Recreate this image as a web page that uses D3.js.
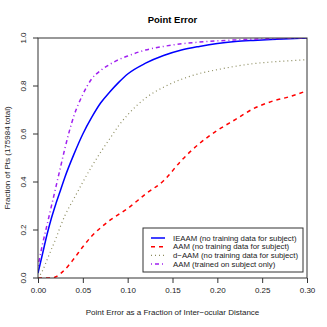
<html>
<head>
<script src="https://d3js.org/d3.v7.min.js"></script>
<style>
  body { margin: 0; background: #fff; }
  text { font-family: "Liberation Sans", Arial, sans-serif; }
</style>
</head>
<body>
<script>
const errors = [0, 0.005, 0.01, 0.015, 0.02, 0.025, 0.03, 0.04, 0.05, 0.06, 0.07, 0.08, 0.09, 0.10,
                0.12, 0.14, 0.16, 0.18, 0.20, 0.22, 0.24, 0.26, 0.28, 0.30];
const ieaam = [0.02, 0.10, 0.18, 0.25, 0.31, 0.365, 0.42, 0.515, 0.60, 0.67, 0.73, 0.775, 0.815, 0.85,
               0.895, 0.927, 0.95, 0.965, 0.977, 0.985, 0.99, 0.994, 0.997, 1.0];
const aamNoTrain = [0, 0, 0, 0, 0.005, 0.018, 0.035, 0.08, 0.13, 0.175, 0.21, 0.24, 0.265, 0.29,
                    0.35, 0.405, 0.49, 0.56, 0.615, 0.66, 0.705, 0.735, 0.755, 0.78];
const dAam = [0, 0.03, 0.075, 0.12, 0.165, 0.215, 0.26, 0.33, 0.40, 0.465, 0.525, 0.58, 0.635, 0.68,
              0.75, 0.795, 0.828, 0.852, 0.868, 0.882, 0.893, 0.90, 0.905, 0.91];
const aamSubject = [0.05, 0.14, 0.22, 0.30, 0.38, 0.46, 0.54, 0.675, 0.765, 0.83, 0.865, 0.89, 0.91, 0.925,
                    0.95, 0.965, 0.976, 0.983, 0.988, 0.992, 0.995, 0.997, 0.999, 1.0];
const xTicks = [0, 0.05, 0.10, 0.15, 0.20, 0.25, 0.30];
const yTicks = [0, 0.2, 0.4, 0.6, 0.8, 1.0];

const series = [
  {name: "IEAAM (no training data for subject)", values: ieaam, color: "#0000ff", dash: null, w: 1.5},
  {name: "AAM (no training data for subject)", values: aamNoTrain, color: "#ff0000", dash: "4,4", w: 1.5},
  {name: "d\u2212AAM (no training data for subject)", values: dAam, color: "#8b8b5e", dash: "1,3", w: 1.2},
  {name: "AAM (trained on subject only)", values: aamSubject, color: "#a020f0", dash: "1,3,4,3", w: 1.5}
];

const W = 327, H = 327;
const pLeft = 38, pRight = 307, pTop = 38, pBottom = 278;

const svg = d3.select("body").append("svg").attr("width", W).attr("height", H);

const x = d3.scaleLinear().domain([0, 0.3]).range([pLeft, pRight]);
const y = d3.scaleLinear().domain([0, 1]).range([pBottom, pTop]);

const line = d3.line().curve(d3.curveMonotoneX);

svg.append("defs").append("clipPath").attr("id", "clip")
  .append("rect").attr("x", pLeft).attr("y", pTop).attr("width", pRight - pLeft).attr("height", pBottom - pTop);

svg.append("g").attr("clip-path", "url(#clip)")
  .selectAll("path")
  .data(series)
  .enter()
  .append("path")
  .attr("d", s => line(errors.map((e, i) => [x(e), y(s.values[i])])))
  .attr("fill", "none")
  .attr("stroke", s => s.color)
  .attr("stroke-width", s => s.w)
  .attr("stroke-dasharray", s => s.dash);

// box
svg.append("rect")
  .attr("x", pLeft).attr("y", pTop).attr("width", pRight - pLeft).attr("height", pBottom - pTop)
  .attr("fill", "none").attr("stroke", "#333").attr("stroke-width", 1);

const xAxis = svg.append("g")
  .attr("transform", `translate(0,${pBottom})`)
  .call(d3.axisBottom(x).tickValues(xTicks).tickFormat(d3.format(".2f")).tickSize(5).tickPadding(4));
xAxis.select(".domain").remove();
xAxis.selectAll("line").attr("stroke", "#333");
xAxis.selectAll("text").attr("font-size", 8).attr("fill", "#222")
  .attr("font-family", "'Liberation Sans', Arial, sans-serif");

const yAxis = svg.append("g")
  .attr("transform", `translate(${pLeft},0)`)
  .call(d3.axisLeft(y).tickValues(yTicks).tickFormat(d3.format(".1f")).tickSize(5).tickPadding(4));
yAxis.select(".domain").remove();
yAxis.selectAll("line").attr("stroke", "#333");
yAxis.selectAll(".tick").attr("transform", null);
yAxis.selectAll(".tick line").attr("y1", d => y(d)).attr("y2", d => y(d));
yAxis.selectAll(".tick text")
  .attr("font-size", 8).attr("fill", "#222")
  .attr("font-family", "'Liberation Sans', Arial, sans-serif")
  .attr("x", 0).attr("y", 0).attr("dy", null)
  .attr("text-anchor", "middle")
  .attr("transform", d => `translate(-12,${y(d)}) rotate(-90)`);

svg.append("text")
  .attr("x", (pLeft + pRight) / 2).attr("y", 23)
  .attr("text-anchor", "middle").attr("font-size", 9.5).attr("font-weight", "bold")
  .text("Point Error");

svg.append("text")
  .attr("x", (pLeft + pRight) / 2).attr("y", 315)
  .attr("text-anchor", "middle").attr("font-size", 8).attr("fill", "#222")
  .text("Point Error as a Fraction of Inter\u2212ocular Distance");

svg.append("text")
  .attr("transform", `translate(10,${(pTop + pBottom) / 2}) rotate(-90)`)
  .attr("text-anchor", "middle").attr("font-size", 8).attr("fill", "#222")
  .text("Fraction of Pts (175984 total)");

// legend
const legend = svg.append("g");
legend.append("rect")
  .attr("x", 143).attr("y", 228).attr("width", 160).attr("height", 44)
  .attr("fill", "#fff").attr("stroke", "#333").attr("stroke-width", 1);
const rows = legend.selectAll("g.row")
  .data(series)
  .enter()
  .append("g")
  .attr("transform", (d, i) => `translate(0,${238 + i * 8.7})`);
rows.append("line")
  .attr("x1", 151).attr("x2", 165).attr("y1", 0).attr("y2", 0)
  .attr("stroke", d => d.color).attr("stroke-width", d => d.w)
  .attr("stroke-dasharray", d => d.dash);
rows.append("text")
  .attr("x", 173).attr("y", 0).attr("dy", "0.35em")
  .attr("font-size", 7.8).attr("fill", "#222")
  .text(d => d.name);
</script>
</body>
</html>
